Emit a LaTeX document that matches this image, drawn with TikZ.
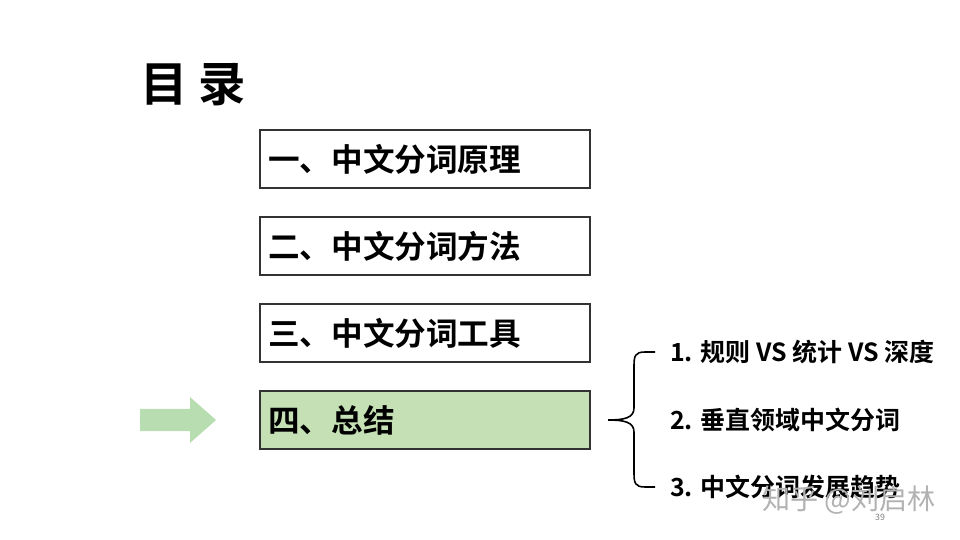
\documentclass[tikz,border=0pt]{standalone}
\usepackage{fontspec}
\setmainfont{Noto Sans CJK SC}[BoldFont={Noto Sans CJK SC Bold}]
\definecolor{lgreen}{HTML}{C5E0B4}
\definecolor{agreen}{HTML}{B8DDB0}
\begin{document}
\begin{tikzpicture}[x=0.02cm,y=-0.02cm,
  box/.style={draw=black!80,line width=0.8pt,minimum width=6.6cm,minimum height=1.16cm,inner sep=0pt},
  lab/.style={anchor=west,font=\bfseries\fontsize{18}{21}\selectfont},
  item/.style={anchor=west,font=\bfseries\fontsize{14.2}{16}\selectfont}]
\useasboundingbox (0,0) rectangle (960,540);
\node[anchor=west,font=\bfseries\fontsize{27}{30}\selectfont] (title) at (134,85) {目 录};
\node[box] (b1) at (425,159) {};
\node[box] (b2) at (425,246) {};
\node[box] (b3) at (425,333) {};
\node[box,fill=lgreen] (b4) at (425,420) {};
\node[lab] (t1) at (262,159) {一、中文分词原理};
\node[lab] (t2) at (262,246) {二、中文分词方法};
\node[lab] (t3) at (262,333) {三、中文分词工具};
\node[lab] (t4) at (262,420) {四、总结};
\fill[agreen] (140,409)--(190,409)--(190,397)--(216,420)--(190,443)--(190,431)--(140,431)--cycle;
\node[item] (i1) at (664,352) {1. 规则 VS 统计 VS 深度};
\node[item] (i2) at (664,420) {2. 垂直领域中文分词};
\node[item] (i3) at (664,487) {3. 中文分词发展趋势};
\coordinate (tip) at (608,420);
\draw[line width=0.9pt] (655,352) -- (645,352) .. controls (635,352) and (634,356) .. (634,366) -- (634,408) .. controls (634,418) and (624,420) .. (tip)
  .. controls (624,420) and (634,422) .. (634,432) -- (634,473) .. controls (634,483) and (635,487) .. (645,487) -- (655,487);
\node[text=gray!60,font=\fontsize{16}{18}\selectfont,anchor=west] (wm) at (756,500) {知乎 @刘启林};
\node[text=gray,font=\fontsize{5}{6}\selectfont] (pg) at (880,517) {39};
\end{tikzpicture}
\end{document}
